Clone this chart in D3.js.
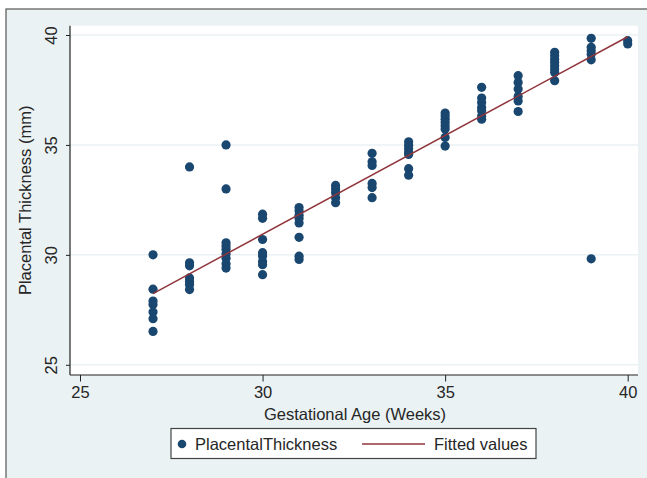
<!DOCTYPE html>
<html><head><meta charset="utf-8">
<script src="https://cdn.jsdelivr.net/npm/d3@7"></script>
<style>
html,body{margin:0;padding:0;background:#fff;}
svg{display:block;font-family:"Liberation Sans",Arial,sans-serif;}
</style></head>
<body>
<div id="chart"></div>
<script>
// Data
const weeks = [
  27,27,27,27,27,27,27,
  28,28,28,28,28,28,28,
  29,29,29,29,29,29,29,29,29,
  30,30,30,30,30,30,30,30,
  31,31,31,31,31,31,31,31,
  32,32,32,32,32,
  33,33,33,33,33,33,
  34,34,34,34,34,34,34,
  35,35,35,35,35,35,35,35,
  36,36,36,36,36,36,36,
  37,37,37,37,37,37,
  38,38,38,38,38,38,38,38,
  39,39,39,39,39,39,
  40,40
];
const thickness = [
  30.0,28.44,27.9,27.74,27.4,27.1,26.52,
  34.0,29.64,29.5,28.95,28.8,28.65,28.42,
  35.0,33.0,30.55,30.4,30.25,30.05,29.85,29.6,29.4,
  31.85,31.66,30.7,30.1,29.95,29.7,29.55,29.1,
  32.15,32.0,31.8,31.65,31.45,30.8,29.94,29.79,
  33.16,33.0,32.83,32.6,32.37,
  34.62,34.23,34.07,33.25,33.06,32.6,
  35.14,34.99,34.84,34.68,34.57,33.92,33.62,
  36.45,36.32,36.17,36.02,35.87,35.72,35.34,34.95,
  37.62,37.13,36.93,36.7,36.55,36.32,36.17,
  38.15,37.84,37.54,37.2,37.0,36.52,
  39.21,39.06,38.9,38.76,38.6,38.45,38.3,37.92,
  39.85,39.44,39.28,39.13,38.87,29.82,
  39.74,39.59
];
const fitWeeks = [27, 40];
const fitValues = [28.24, 39.92];
const xTicks = [25, 30, 35, 40];
const yTicks = [25, 30, 35, 40];
const legendLabels = ["PlacentalThickness", "Fitted values"];

const W = 647, H = 478;
const FS = 16.5;
const bg = "#eaf2f3", navy = "#1a476f", maroon = "#90353b", ink = "#262626";
const svg = d3.select("#chart").append("svg").attr("width", W).attr("height", H);

// outer graph region
svg.append("rect").attr("x", 0).attr("y", 0).attr("width", W).attr("height", H).attr("fill", "#fff");
svg.append("rect").attr("x", 6).attr("y", 9).attr("width", W + 10).attr("height", H + 10)
  .attr("fill", bg).attr("stroke", "#555").attr("stroke-width", 1.2);

const plot = {left: 70, right: 638, top: 25.7, bottom: 375};
svg.append("rect").attr("x", plot.left).attr("y", plot.top)
  .attr("width", plot.right - plot.left).attr("height", plot.bottom - plot.top).attr("fill", "#fff");

const x = d3.scaleLinear().domain([25, 40]).range([80, 627.7]);
const y = d3.scaleLinear().domain([25, 40]).range([364.8, 35]);

// gridlines
svg.append("g").selectAll("line").data(yTicks).join("line")
  .attr("x1", plot.left).attr("x2", plot.right)
  .attr("y1", d => y(d)).attr("y2", d => y(d))
  .attr("stroke", bg).attr("stroke-width", 1.5);

// axes
const xAxis = svg.append("g").attr("transform", `translate(0,${plot.bottom})`)
  .call(d3.axisBottom(x).tickValues(xTicks).tickSize(6.5).tickPadding(5).tickFormat(d3.format("d")));
xAxis.select(".domain").attr("d", `M${plot.left},0H${plot.right}`).attr("stroke", "#222").attr("stroke-width", 1.2);
xAxis.selectAll(".tick line").attr("stroke", "#222");
xAxis.selectAll(".tick text").attr("font-size", FS).attr("fill", ink)
  .attr("font-family", "Liberation Sans, Arial, sans-serif");

const yAxis = svg.append("g").attr("transform", `translate(${plot.left},0)`)
  .call(d3.axisLeft(y).tickValues(yTicks).tickSize(4).tickPadding(0).tickFormat(d3.format("d")));
yAxis.select(".domain").attr("d", `M0,${plot.top}V${plot.bottom}`).attr("stroke", "#222").attr("stroke-width", 1.2);
yAxis.selectAll(".tick line").attr("stroke", "#222");
yAxis.selectAll(".tick text")
  .attr("font-size", FS).attr("fill", ink).attr("font-family", "Liberation Sans, Arial, sans-serif")
  .attr("x", 0).attr("dy", null)
  .attr("text-anchor", "middle")
  .attr("transform", "translate(-19.5,0) rotate(-90)")
  .attr("y", 0).attr("dominant-baseline", "central");

// axis titles
svg.append("text").attr("x", (plot.left + plot.right) / 2 + 1).attr("y", 420)
  .attr("text-anchor", "middle").attr("font-size", FS).attr("fill", ink)
  .text("Gestational Age (Weeks)");
svg.append("text").attr("transform", `translate(31,${(plot.top + plot.bottom) / 2}) rotate(-90)`)
  .attr("text-anchor", "middle").attr("font-size", FS).attr("fill", ink)
  .text("Placental Thickness (mm)");

// points
const pts = weeks.map((w, i) => ({w, t: thickness[i]}));
svg.append("g").selectAll("circle").data(pts).join("circle")
  .attr("cx", d => x(d.w)).attr("cy", d => y(d.t)).attr("r", 4.6).attr("fill", navy);

// fitted line
const fit = fitWeeks.map((w, i) => [w, fitValues[i]]);
svg.append("path").datum(fit)
  .attr("d", d3.line().x(d => x(d[0])).y(d => y(d[1])))
  .attr("fill", "none").attr("stroke", maroon).attr("stroke-width", 1.5);

// legend
const lg = svg.append("g");
lg.append("rect").attr("x", 171).attr("y", 428.5).attr("width", 365).attr("height", 30)
  .attr("fill", "#fff").attr("stroke", "#444").attr("stroke-width", 1.2);
lg.append("circle").attr("cx", 182).attr("cy", 444).attr("r", 4.3).attr("fill", navy);
lg.append("text").attr("x", 195).attr("y", 450).attr("font-size", FS).attr("fill", ink).text(legendLabels[0]);
lg.append("line").attr("x1", 362).attr("x2", 425).attr("y1", 444).attr("y2", 444)
  .attr("stroke", maroon).attr("stroke-width", 1.5);
lg.append("text").attr("x", 434).attr("y", 450).attr("font-size", FS).attr("fill", ink).text(legendLabels[1]);
</script>
</body></html>
